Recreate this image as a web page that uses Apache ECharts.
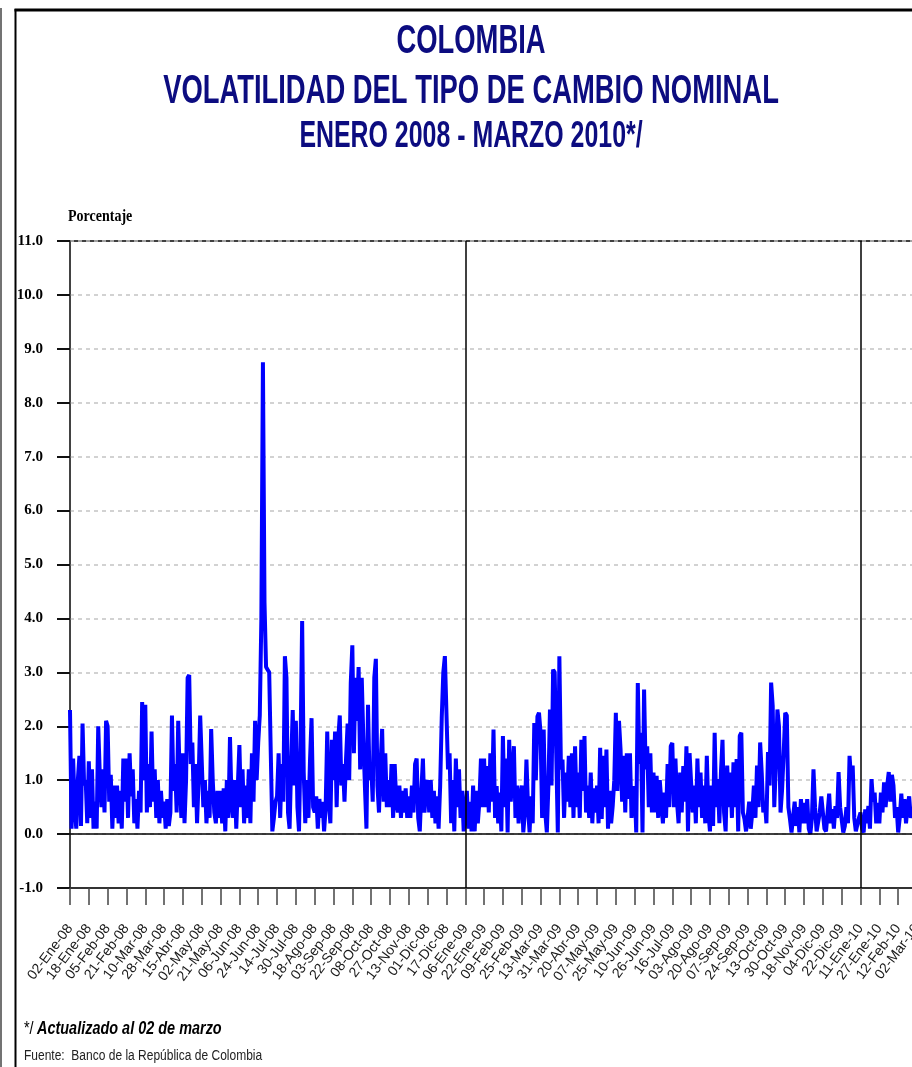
<!DOCTYPE html>
<html>
<head>
<meta charset="utf-8">
<script src="https://cdn.jsdelivr.net/npm/echarts@6/dist/echarts.min.js"></script>
<style>
  html, body { margin: 0; padding: 0; background: #fff; }
  #chart { width: 912px; height: 1067px; }
</style>
</head>
<body>
<div id="chart"></div>
<script>
// Fechas marcadas en el eje horizontal
const tickLabels = [
  '02-Ene-08', '18-Ene-08', '05-Feb-08', '21-Feb-08', '10-Mar-08', '28-Mar-08',
  '15-Abr-08', '02-May-08', '21-May-08', '06-Jun-08', '24-Jun-08', '14-Jul-08',
  '30-Jul-08', '18-Ago-08', '03-Sep-08', '22-Sep-08', '08-Oct-08', '27-Oct-08',
  '13-Nov-08', '01-Dic-08', '17-Dic-08', '06-Ene-09', '22-Ene-09', '09-Feb-09',
  '25-Feb-09', '13-Mar-09', '31-Mar-09', '20-Abr-09', '07-May-09', '25-May-09',
  '10-Jun-09', '26-Jun-09', '16-Jul-09', '03-Ago-09', '20-Ago-09', '07-Sep-09',
  '24-Sep-09', '13-Oct-09', '30-Oct-09', '18-Nov-09', '04-Dic-09', '22-Dic-09',
  '11-Ene-10', '27-Ene-10', '12-Feb-10', '02-Mar-10'
];

// Observaciones diarias entre dos fechas marcadas
const obsPerLabel = 12;

// Volatilidad del tipo de cambio nominal (%), una fila por tramo entre fechas marcadas
const volatilidad = [
  2.3, 0.1, 1.4, 0.5, 0.1, 1.0, 1.45, 0.15, 2.05, 0.9, 1.0, 0.2,
  1.35, 0.3, 1.2, 0.1, 0.6, 0.1, 2.0, 1.1, 0.5, 1.2, 0.4, 2.1,
  2.0, 0.6, 1.1, 0.1, 0.9, 0.3, 0.9, 0.2, 0.8, 0.1, 1.4, 0.6,
  1.4, 0.3, 1.5, 0.7, 1.2, 0.2, 0.65, 0.1, 0.8, 0.4, 2.45, 1.0,
  2.4, 0.4, 1.3, 0.5, 1.9, 0.6, 1.2, 0.3, 1.0, 0.2, 0.8, 0.3,
  0.6, 0.1, 0.65, 0.15, 0.4, 2.2, 0.8, 1.3, 0.4, 2.1, 1.0, 0.3,
  1.5, 0.2, 1.0, 2.9, 2.95, 1.3, 1.7, 0.5, 1.3, 0.2, 1.0, 2.2,
  2.2, 0.5, 1.0, 0.2, 0.8, 0.3, 1.95, 1.0, 0.4, 0.2, 0.8, 0.3,
  0.8, 0.2, 0.85, 0.05, 1.0, 0.3, 1.8, 0.6, 0.3, 1.0, 0.1, 0.9,
  1.65, 0.5, 1.2, 0.2, 0.9, 0.3, 1.2, 0.2, 1.5, 0.6, 2.1, 1.0,
  1.7, 2.2, 4.0, 8.75, 4.3, 3.1, 3.05, 3.0, 1.5, 0.05, 0.3, 0.6,
  0.7, 1.5, 0.3, 1.3, 0.6, 3.3, 2.9, 0.4, 0.1, 1.3, 2.3, 0.9,
  2.1, 0.5, 0.05, 1.65, 3.95, 1.15, 0.2, 1.0, 0.3, 1.35, 2.15, 0.5,
  0.4, 0.7, 0.1, 0.65, 0.3, 0.6, 0.05, 0.5, 1.9, 0.6, 0.2, 1.75,
  1.0, 1.9, 0.5, 1.75, 2.2, 0.9, 1.3, 0.6, 1.4, 2.05, 1.0, 2.8,
  3.5, 1.5, 2.9, 2.1, 3.1, 1.2, 2.9, 1.8, 0.9, 0.1, 2.4, 1.0,
  1.3, 0.6, 2.9, 3.25, 0.9, 0.4, 1.3, 1.95, 0.6, 1.5, 0.5, 1.0,
  0.5, 1.3, 0.3, 1.3, 0.6, 0.4, 0.9, 0.3, 0.8, 0.4, 0.85, 0.3,
  0.7, 0.3, 0.9, 0.4, 1.3, 1.4, 0.3, 0.05, 0.8, 1.4, 0.4, 0.9,
  1.0, 0.4, 1.0, 0.3, 0.8, 0.2, 0.7, 0.1, 0.9, 2.15, 3.0, 3.3,
  3.3, 1.2, 1.5, 0.2, 1.0, 0.05, 1.4, 0.5, 1.2, 0.3, 0.8, 0.05,
  0.4, 0.8, 0.1, 0.6, 0.05, 0.9, 0.05, 0.8, 0.2, 0.6, 1.4, 0.5,
  1.4, 0.5, 1.26, 0.4, 1.5, 0.6, 1.94, 0.3, 0.89, 0.2, 0.77, 0.05,
  1.82, 0.5, 1.4, 0.03, 1.75, 0.6, 1.1, 1.63, 0.3, 0.9, 0.2, 0.71,
  0.9, 0.03, 0.4, 1.38, 0.5, 0.03, 0.7, 0.2, 2.06, 1.0, 2.18, 2.25,
  1.88, 0.3, 1.94, 0.4, 0.03, 0.89, 2.31, 0.9, 3.05, 3.0, 1.5, 0.03,
  3.3, 1.2, 1.38, 0.3, 1.14, 0.6, 1.45, 0.5, 1.5, 0.3, 1.63, 0.5,
  1.14, 0.3, 1.75, 0.8, 1.82, 0.4, 0.9, 0.3, 1.14, 0.2, 0.85, 0.4,
  0.9, 0.2, 1.6, 0.28, 1.45, 0.5, 1.57, 0.1, 0.8, 0.2, 0.52, 1.0,
  2.25, 0.8, 2.1, 1.57, 0.6, 1.45, 0.4, 1.5, 0.65, 1.5, 0.3, 0.77,
  0.89, 0.03, 2.8, 1.3, 1.88, 0.03, 2.68, 1.2, 1.63, 0.5, 1.5, 0.4,
  1.14, 0.4, 1.08, 0.3, 1.0, 0.6, 0.2, 0.77, 0.3, 1.3, 0.5, 1.63,
  1.69, 0.5, 1.4, 0.6, 0.2, 1.14, 0.4, 1.26, 0.6, 1.63, 0.05, 1.5,
  1.5, 0.4, 0.9, 0.2, 1.4, 0.5, 1.14, 0.3, 0.9, 0.2, 1.45, 0.4,
  0.05, 0.9, 0.15, 1.88, 0.5, 1.02, 0.2, 1.14, 1.75, 0.4, 0.05, 1.27,
  0.5, 1.14, 0.3, 1.33, 0.5, 1.39, 0.05, 1.82, 1.88, 0.4, 0.28, 0.05,
  0.3, 0.6, 0.1, 0.4, 0.9, 0.3, 1.27, 0.5, 1.7, 1.14, 0.4, 0.6,
  0.2, 1.52, 0.9, 2.81, 2.38, 0.5, 1.27, 2.31, 2.0, 0.4, 0.83, 1.5,
  2.25, 2.2, 0.5, 0.28, 0.03, 0.0, 0.6, 0.15, 0.5, 0.03, 0.65, 0.2,
  0.58, 0.2, 0.65, 0.1, 0.0, 0.3, 1.2, 0.5, 0.05, 0.03, 0.4, 0.7,
  0.7, 0.1, 0.05, 0.4, 0.75, 0.2, 0.46, 0.1, 0.52, 0.3, 1.15, 0.5,
  0.52, 0.03, 0.15, 0.5, 0.2, 1.45, 1.0, 1.27, 0.3, 0.05, 0.03, 0.3,
  0.4, 0.1, 0.03, 0.46, 0.2, 0.52, 0.1, 1.02, 0.6, 0.77, 0.2, 0.58,
  0.2, 0.77, 0.4, 0.96, 0.5, 0.9, 1.15, 0.6, 1.1, 0.9, 0.3, 0.5,
  0.03, 0.3, 0.75, 0.3, 0.65, 0.2, 0.52, 0.7, 0.3, 0.5, 0.4, 0.45,
  0.4
];

// Escala vertical (porcentaje)
const yMin = -1;
const yMax = 11;
const yStep = 1;

// Separadores de año
const yearMarks = ['06-Ene-09', '11-Ene-10'];

// Una categoría por observación; sólo las fechas marcadas llevan nombre
const categories = [];
tickLabels.forEach((lab, i) => {
  categories.push(lab);
  if (i < tickLabels.length - 1) {
    for (let k = 1; k < obsPerLabel; k++) categories.push('');
  }
});

const TITLE_COLOR = '#0c0c80';
const SERIF = '"Liberation Serif", "DejaVu Serif", serif';
const SANS = '"Liberation Sans", Arial, sans-serif';

// Texto estrecho y alto: fuente sans escalada
function narrowText(x, y, text, size, opts) {
  const o = opts || {};
  return {
    type: 'text', x: x, y: y,
    scaleX: o.sx || 0.83, scaleY: o.sy || 1.22,
    style: {
      text: text, align: o.align || 'center', verticalAlign: 'middle',
      fontFamily: SANS, fontWeight: o.weight || 'bold', fontStyle: o.style || 'normal',
      fontSize: size, fill: o.color || TITLE_COLOR
    }
  };
}

const chart = echarts.init(document.getElementById('chart'), null, { renderer: 'canvas' });

chart.setOption({
  animation: false,
  backgroundColor: '#fff',
  grid: {
    left: 70, top: 241, right: -5, bottom: 179,
    containLabel: false,
    outerBoundsMode: 'none',
    show: true,
    borderColor: '#000',
    borderWidth: 1.5,
    backgroundColor: 'transparent'
  },
  xAxis: {
    type: 'category',
    data: categories,
    boundaryGap: false,
    axisLine: { show: true, onZero: false, lineStyle: { color: '#333', width: 2 } },
    axisTick: { show: true, interval: obsPerLabel - 1, length: 17, lineStyle: { color: '#444', width: 1.5 } },
    axisLabel: {
      interval: obsPerLabel - 1, rotate: 53, margin: 38,
      fontFamily: SANS, fontSize: 14, color: '#1a1a1a'
    },
    splitLine: { show: false }
  },
  yAxis: {
    type: 'value',
    min: yMin, max: yMax, interval: yStep,
    axisLine: { show: true, lineStyle: { color: '#444', width: 1.5 } },
    axisTick: { show: true, length: 13, lineStyle: { color: '#111', width: 2 } },
    axisLabel: {
      margin: 27,
      formatter: v => v.toFixed(1),
      fontFamily: SERIF, fontWeight: 'bold', fontSize: 15, color: '#000'
    },
    splitLine: { show: true, lineStyle: { color: '#c4c4c4', width: 1.5, type: [4, 4] } }
  },
  series: [{
    type: 'line',
    data: volatilidad,
    showSymbol: false,
    symbol: 'none',
    sampling: null,
    lineStyle: { color: '#0000ff', width: 4 },
    itemStyle: { color: '#0000ff' },
    markLine: {
      silent: true,
      symbol: ['none', 'none'],
      label: { show: false },
      lineStyle: { color: '#000', width: 1.5, type: 'solid' },
      data: [{ yAxis: 0 }].concat(yearMarks.map(d => ({ xAxis: d })))
    }
  }],
  graphic: [
    // Marco
    { type: 'line', shape: { x1: 1, y1: 8, x2: 1, y2: 1067 }, style: { stroke: '#444', lineWidth: 1.5 } },
    { type: 'line', shape: { x1: 15.5, y1: 9, x2: 15.5, y2: 1067 }, style: { stroke: '#000', lineWidth: 2 } },
    { type: 'line', shape: { x1: 14.5, y1: 10, x2: 912, y2: 10 }, style: { stroke: '#000', lineWidth: 3 } },
    // Títulos
    narrowText(471, 42, 'COLOMBIA', 33),
    narrowText(471, 92, 'VOLATILIDAD DEL TIPO DE CAMBIO NOMINAL', 33),
    narrowText(471, 137, 'ENERO 2008 - MARZO 2010*/', 30),
    // Unidad del eje vertical
    {
      type: 'text', x: 68, y: 216, scaleY: 1.25,
      style: { text: 'Porcentaje', align: 'left', verticalAlign: 'middle',
        fontFamily: SERIF, fontWeight: 'bold', fontSize: 14, fill: '#000' }
    },
    // Notas
    narrowText(24, 1029, '*/', 17, { align: 'left', weight: 'normal', color: '#000', sx: 0.85, sy: 1.1 }),
    narrowText(37, 1029, 'Actualizado al 02 de marzo', 17,
      { align: 'left', style: 'italic', color: '#000', sx: 0.85, sy: 1.1 }),
    narrowText(24, 1056, 'Fuente:  Banco de la República de Colombia', 12,
      { align: 'left', weight: 'normal', color: '#222', sx: 1.0, sy: 1.15 })
  ]
});
</script>
</body>
</html>
